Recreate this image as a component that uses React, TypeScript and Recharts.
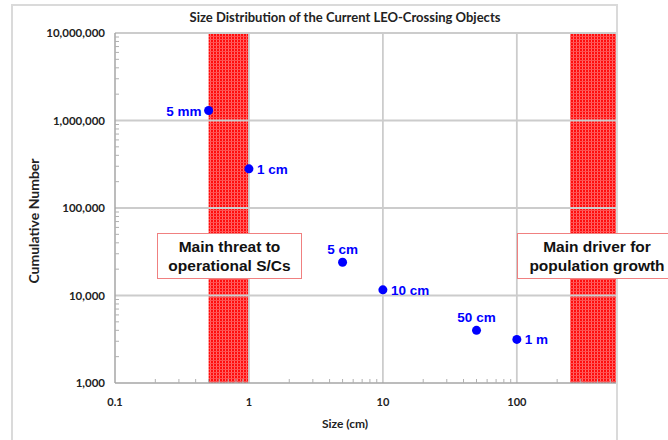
import { ScatterChart, Scatter, XAxis, YAxis, ReferenceLine, ReferenceArea } from "recharts"

// object size (cm) and cumulative number of LEO-crossing objects
const sizes = [0.5, 1, 5, 10, 50, 100]
const counts = [1300000, 280000, 24000, 11600, 4000, 3150]
const sizeLabels = ["5 mm", "1 cm", "5 cm", "10 cm", "50 cm", "1 m"]

const xMajor = [0.1, 1, 10, 100]
const yMajor = [1000, 10000, 100000, 1000000, 10000000]
const xMinor = [0.2, 0.3, 0.4, 0.5, 0.6, 0.7, 0.8, 0.9, 2, 3, 4, 5, 6, 7, 8, 9, 20, 30, 40, 50, 60, 70, 80, 90, 200, 300, 400, 500]
const yMinor = [2, 3, 4, 5, 6, 7, 8, 9].flatMap((m) => [1000, 10000, 100000, 1000000].map((d) => m * d))

// red bands (cm)
const threatBand = [0.5, 1]
const driverBand = [250, 550]

const data = sizes.map((s, i) => ({ size: s, count: counts[i], label: sizeLabels[i] }))

const labelSide: Record<string, string> = { "5 mm": "left", "5 cm": "top", "50 cm": "top" }

const axisFont = "Lato, 'Open Sans', sans-serif"
const arial = "'Liberation Sans', Arial, sans-serif"

const fmt = (v: number) => v.toLocaleString("en-US")

const YTick = ({ x, y, payload }: any) => {
  const major = yMajor.includes(payload.value)
  return (
    <g>
      {!major && <line x1={x + 10} x2={x + 14} y1={y} y2={y} stroke="#b0b0b0" strokeWidth={1} />}
      {major && (
        <text x={x} y={y} dy={4} textAnchor="end" fontFamily={axisFont} fontWeight={700} fontSize={11.5} fill="#222">
          {fmt(payload.value)}
        </text>
      )}
    </g>
  )
}

const XTick = ({ x, y, payload }: any) => {
  const major = xMajor.includes(payload.value)
  return (
    <g>
      {!major && <line x1={x} x2={x} y1={y - 19} y2={y - 23} stroke="#b0b0b0" strokeWidth={1} />}
      {major && (
        <text x={x} y={y} dy={4} textAnchor="middle" fontFamily={axisFont} fontWeight={700} fontSize={11} fill="#222">
          {payload.value}
        </text>
      )}
    </g>
  )
}

const Dot = ({ cx, cy, payload }: any) => {
  const side = labelSide[payload.label] || "right"
  let tx = cx + 8
  let ty = cy + 5
  let anchor: any = "start"
  if (side === "left") {
    tx = cx - 7
    anchor = "end"
  } else if (side === "top") {
    tx = cx
    ty = cy - 8
    anchor = "middle"
  }
  return (
    <g>
      <circle cx={cx} cy={cy} r={4.5} fill="#0000ff" />
      <text x={tx} y={ty} textAnchor={anchor} fontFamily={arial} fontWeight={700} fontSize={13.5} fill="#0000ff">
        {payload.label}
      </text>
    </g>
  )
}

const boxStyle: any = {
  position: "absolute",
  top: 233,
  height: 44,
  background: "#fff",
  border: "1.5px solid #f08080",
  fontFamily: arial,
  fontWeight: 700,
  fontSize: 15.5,
  lineHeight: "19px",
  color: "#111",
  textAlign: "center",
  whiteSpace: "nowrap",
  display: "flex",
  flexDirection: "column",
  justifyContent: "center",
}

export default function App() {
  return (
    <div style={{ position: "absolute", left: 0, top: 0, width: 668, height: 440, background: "#fff", overflow: "hidden" }}>
      <div style={{ position: "absolute", left: 11, top: 4, width: 603, height: 460, border: "2px solid #dadada" }} />
      <div
        style={{
          position: "absolute",
          left: 115,
          width: 460,
          top: 9,
          textAlign: "center",
          fontFamily: axisFont,
          fontWeight: 700,
          fontSize: 13,
          color: "#222",
        }}
      >
        Size Distribution of the Current LEO-Crossing Objects
      </div>
      <div style={{ position: "absolute", left: 0, top: 0 }}>
        <ScatterChart width={668} height={440} margin={{ top: 33, right: 52, bottom: 0, left: 0 }}>
          <defs>
            <pattern id="redgrid" width="3" height="3" patternUnits="userSpaceOnUse">
              <rect width="3" height="3" fill="#ff0d0d" />
              <rect width="1" height="3" fill="#ff6a6a" />
              <rect width="3" height="1" fill="#ff5050" />
            </pattern>
          </defs>
          <XAxis
            type="number"
            dataKey="size"
            scale="log"
            domain={[0.1, 550]}
            ticks={[...xMajor, ...xMinor].sort((a, b) => a - b)}
            interval={0}
            allowDataOverflow
            tick={<XTick />}
            tickLine={false}
            tickSize={0}
            tickMargin={19}
            height={57}
            axisLine={{ stroke: "#a6a6a6", strokeWidth: 1.5 }}
          />
          <YAxis
            type="number"
            dataKey="count"
            scale="log"
            domain={[1000, 10000000]}
            ticks={[...yMajor, ...yMinor].sort((a, b) => a - b)}
            interval={0}
            allowDataOverflow
            tick={<YTick />}
            tickLine={false}
            tickSize={0}
            tickMargin={10}
            width={115}
            axisLine={{ stroke: "#a6a6a6", strokeWidth: 1.5 }}
          />
          {xMajor.slice(1).map((v) => (
            <ReferenceLine key={"x" + v} x={v} stroke="#cccccc" strokeWidth={1.8} />
          ))}
          {yMajor.slice(1).map((v) => (
            <ReferenceLine key={"y" + v} y={v} stroke="#cccccc" strokeWidth={1.8} />
          ))}
          <ReferenceArea x1={threatBand[0]} x2={threatBand[1]} fill="url(#redgrid)" fillOpacity={1} stroke="none" />
          <ReferenceArea x1={driverBand[0]} x2={driverBand[1]} fill="url(#redgrid)" fillOpacity={1} stroke="none" />
          <Scatter data={data} isAnimationActive={false} shape={<Dot />} />
        </ScatterChart>
      </div>
      <div
        style={{
          position: "absolute",
          left: 33,
          top: 221,
          transform: "translate(-50%, -50%) rotate(-90deg)",
          transformOrigin: "center",
          whiteSpace: "nowrap",
          fontFamily: axisFont,
          fontWeight: 700,
          fontSize: 14,
          color: "#222",
        }}
      >
        Cumulative Number
      </div>
      <div
        style={{
          position: "absolute",
          left: 295,
          width: 100,
          top: 416,
          textAlign: "center",
          fontFamily: axisFont,
          fontWeight: 700,
          fontSize: 12,
          color: "#222",
        }}
      >
        Size (cm)
      </div>
      <div style={{ ...boxStyle, left: 157, width: 143 }}>
        <div>Main threat to</div>
        <div>operational S/Cs</div>
      </div>
      <div style={{ ...boxStyle, left: 517, width: 158 }}>
        <div>Main driver for</div>
        <div>population growth</div>
      </div>
    </div>
  )
}
